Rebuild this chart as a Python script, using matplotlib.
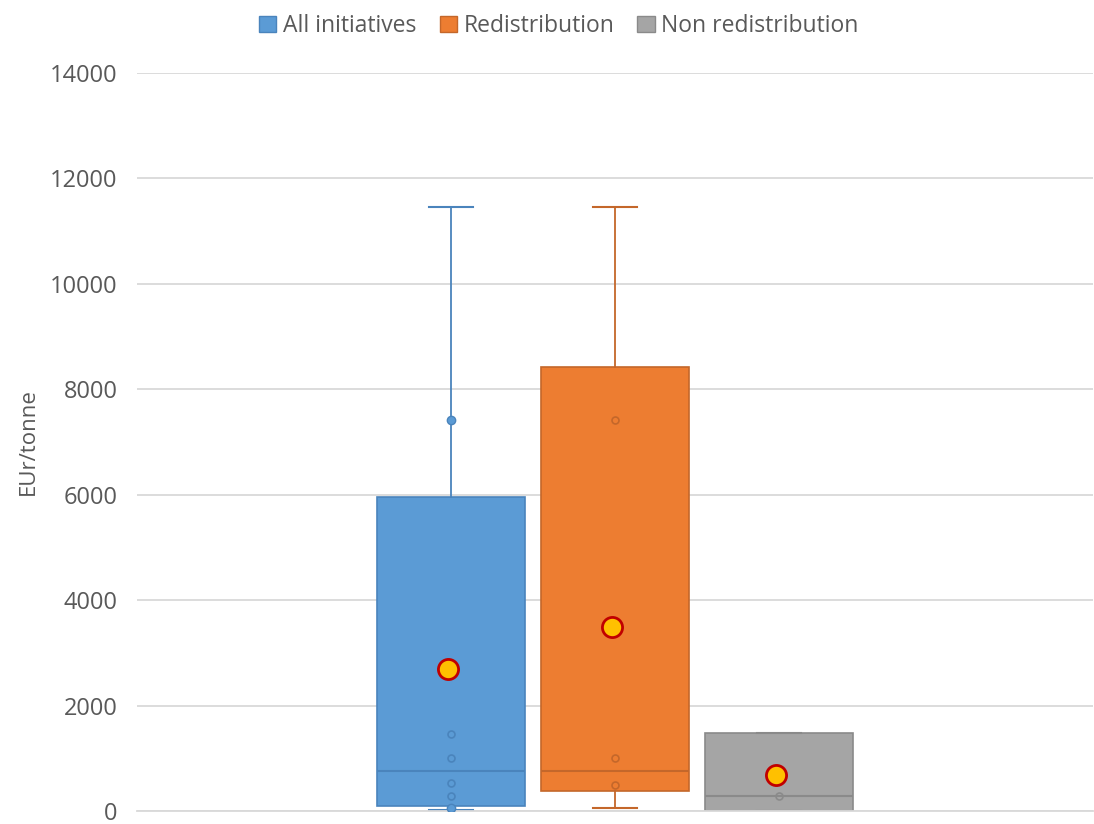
import numpy as np
import matplotlib.pyplot as plt

plt.rcParams['font.family'] = ['Open Sans', 'DejaVu Sans']

# EUR/tonne box statistics
groups = ['All initiatives', 'Redistribution', 'Non redistribution']
q1 = [100, 380, 0]
med = [760, 760, 285]
q3 = [5950, 8430, 1480]
whislo = [20, 57, 0]
whishi = [11460, 11460, 1480]
means = [2700, 3500, 680]
inner_pts = [[1470, 1000, 530, 285], [1000, 490], [285]]
outliers = [[7420, 57], [], []]
outliers_hollow = [[], [7420], []]

face = ['#5B9BD5', '#ED7D31', '#A5A5A5']
edge = ['#4A84BC', '#C4672A', '#8A8A8A']

fig = plt.figure(figsize=(10.94, 8.24), dpi=100)
ax = fig.add_axes([137 / 1094, 13 / 824, 956 / 1094, 738 / 824])

pos = np.arange(1, 4)
for i in range(3):
    st = dict(med=med[i], q1=q1[i], q3=q3[i], whislo=whislo[i], whishi=whishi[i], fliers=[])
    ax.bxp([st], positions=[pos[i]], widths=0.9, capwidths=0.27, patch_artist=True,
           showfliers=False,
           boxprops=dict(facecolor=face[i], edgecolor=edge[i], linewidth=1.2),
           medianprops=dict(color=edge[i], linewidth=1.5),
           whiskerprops=dict(color=edge[i], linewidth=1.3),
           capprops=dict(color=edge[i], linewidth=1.5), manage_ticks=False)
    ax.plot([pos[i]] * len(inner_pts[i]), inner_pts[i], 'o', ms=5, mfc='none', mec=edge[i], mew=1.2, zorder=4)
    ax.plot([pos[i]] * len(outliers_hollow[i]), outliers_hollow[i], 'o', ms=5, mfc='none', mec=edge[i], mew=1.2, zorder=4)
    ax.plot([pos[i]] * len(outliers[i]), outliers[i], 'o', ms=6, mfc=face[i], mec=edge[i], mew=1, zorder=4)
    ax.plot([pos[i] - 0.02], [means[i]], 'o', ms=14.5, mfc='#FFC000', mec='#C00000', mew=2, zorder=5)

ax.set_xlim(2 - 2.915, 2 + 2.915)
ax.set_ylim(0, 14000)
ax.set_yticks(np.arange(0, 14001, 2000))
ax.set_xticks([])
ax.yaxis.grid(True, color='#D9D9D9', lw=1.3)
ax.set_axisbelow(True)
for s in ['top', 'right', 'left']:
    ax.spines[s].set_visible(False)
ax.spines['bottom'].set_color('#D9D9D9')
ax.spines['bottom'].set_linewidth(1.3)
ax.tick_params(axis='y', length=0, labelsize=17, labelcolor='#595959', pad=14)
ax.set_ylabel('EUr/tonne', fontsize=16, color='#595959', labelpad=8)

handles = [plt.Rectangle((0, 0), 1, 1, fc=face[i], ec=edge[i]) for i in range(3)]
fig.legend(handles, groups, loc='upper center', bbox_to_anchor=(0.511, 1.008), ncol=3, frameon=False,
           fontsize=16.5, labelcolor='#595959', handlelength=0.75, handleheight=0.75, handletextpad=0.3,
           columnspacing=1.0)

fig.savefig('out.png', dpi=100)
